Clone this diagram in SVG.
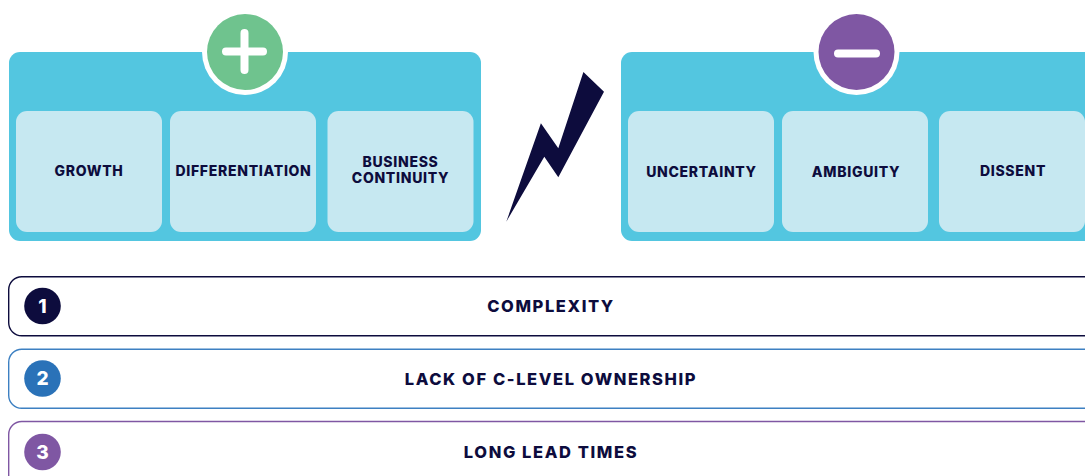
<svg xmlns="http://www.w3.org/2000/svg" width="1085" height="476" viewBox="0 0 1085 476">
<style>
.panel{fill:#53c6e0}
.card{fill:#c6e8f1}
.ring{fill:#fff}
.sym{stroke:#fff;stroke-width:8;stroke-linecap:round;fill:none}
.lbl{font-family:Inter,"Liberation Sans",sans-serif;font-weight:800;font-size:14px;letter-spacing:.7px;fill:#0d0c3d;text-anchor:middle}
.row{fill:#fff;stroke-width:1.4}
.rowl{font-family:Inter,"Liberation Sans",sans-serif;font-weight:800;font-size:16.500px;letter-spacing:1.6px;fill:#0d0c3d;text-anchor:middle}
.num{font-family:Inter,"Liberation Sans",sans-serif;font-weight:800;font-size:19px;fill:#fff;text-anchor:middle}
</style>
<g id="panel-plus">
<rect class="panel" x="9" y="52" width="472" height="189" rx="11"/>
<circle class="ring" cx="245" cy="52" r="43"/>
<circle cx="245" cy="52" r="38" fill="#6fc38e"/>
<path class="sym" d="M226 51.500H263M244.500 33V70"/>
</g>
<g id="card-growth"><rect class="card" x="16" y="111" width="146" height="121" rx="11"/><text class="lbl" x="89" y="176">GROWTH</text></g>
<g id="card-differentiation"><rect class="card" x="170" y="111" width="146" height="121" rx="11"/><text class="lbl" x="243.500" y="176">DIFFERENTIATION</text></g>
<g id="card-continuity"><rect class="card" x="327.500" y="111" width="146" height="121" rx="11"/><text class="lbl" x="400.500" y="167">BUSINESS</text><text class="lbl" x="400.500" y="183">CONTINUITY</text></g>
<g id="bolt"><polygon fill="#0d0c3d" points="583.400,72 604,91.700 558.300,177.300 544.300,156.700 506.300,221.700 540.900,123.300 558.300,148.300"/></g>
<g id="panel-minus">
<rect class="panel" x="621" y="52" width="480" height="189" rx="11"/>
<circle class="ring" cx="856.500" cy="52" r="43"/>
<circle cx="856.500" cy="52" r="38" fill="#7f57a3"/>
<path class="sym" d="M838 53.500H876"/>
</g>
<g id="card-uncertainty"><rect class="card" x="628" y="111" width="146" height="121" rx="11"/><text class="lbl" x="701.500" y="177">UNCERTAINTY</text></g>
<g id="card-ambiguity"><rect class="card" x="782" y="111" width="146" height="121" rx="11"/><text class="lbl" x="856" y="177">AMBIGUITY</text></g>
<g id="card-dissent"><rect class="card" x="939" y="111" width="146" height="121" rx="11"/><text class="lbl" x="1013" y="176">DISSENT</text></g>
<g id="row-1"><rect class="row" x="8.700" y="276.700" width="1090" height="59" rx="13" stroke="#0d0c3d"/><circle cx="42.500" cy="306" r="18.300" fill="#0d0c3d"/><text class="num" x="42.500" y="312.500">1</text><text class="rowl" x="551" y="311.500">COMPLEXITY</text></g>
<g id="row-2"><rect class="row" x="8.700" y="349.200" width="1090" height="59" rx="13" stroke="#3d80c2"/><circle cx="42.500" cy="378.500" r="18.300" fill="#2a72b8"/><text class="num" x="42.500" y="385">2</text><text class="rowl" x="551" y="385">LACK OF C-LEVEL OWNERSHIP</text></g>
<g id="row-3"><rect class="row" x="8.700" y="421.500" width="1090" height="70" rx="13" stroke="#7f57a3"/><circle cx="42.500" cy="452" r="18.300" fill="#7f57a3"/><text class="num" x="42.500" y="458.500">3</text><text class="rowl" x="551" y="457.500">LONG LEAD TIMES</text></g>
<g id="connectors"/>
</svg>
